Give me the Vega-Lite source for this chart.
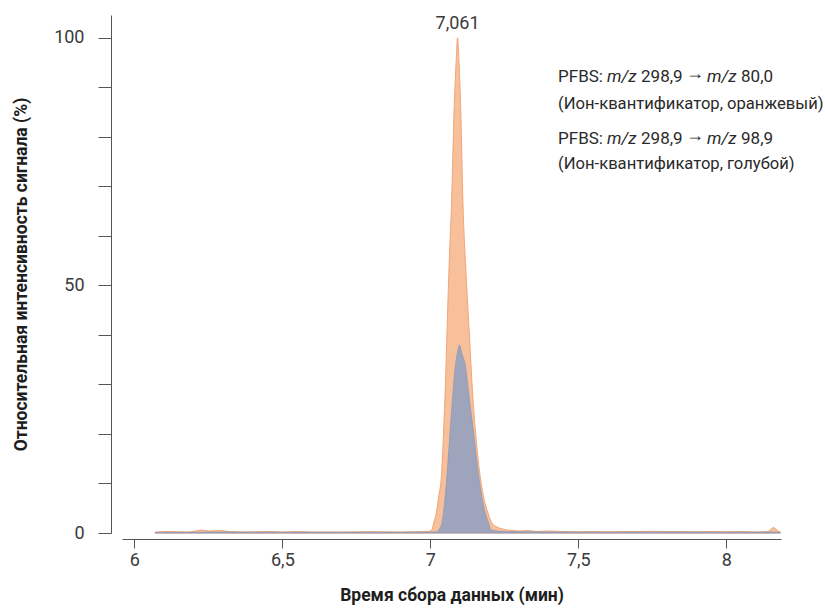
{
  "$schema": "https://vega.github.io/schema/vega-lite/v6.json",
  "width": 659,
  "height": 518,
  "autosize": {"type": "none"},
  "padding": {"left": 122, "top": 15, "right": 44, "bottom": 76},
  "background": "white",
  "config": {
    "view": {"stroke": null},
    "font": "Roboto",
    "axis": {
      "grid": false,
      "domainColor": "#555555",
      "tickColor": "#555555",
      "labelColor": "#3a3a3a",
      "titleColor": "#1e1e1e",
      "labelFontSize": 18,
      "titleFontSize": 17.5,
      "titleFontWeight": "bold",
      "labelFont": "Roboto",
      "titleFont": "Roboto"
    }
  },
  "datasets": {
    "trace": [
      {"ion": "80,0", "t": 6.07, "i": 0.2}, {"ion": "80,0", "t": 6.12, "i": 0.3}, {"ion": "80,0", "t": 6.18, "i": 0.2},
      {"ion": "80,0", "t": 6.23, "i": 0.6}, {"ion": "80,0", "t": 6.25, "i": 0.4}, {"ion": "80,0", "t": 6.29, "i": 0.5},
      {"ion": "80,0", "t": 6.32, "i": 0.3}, {"ion": "80,0", "t": 6.38, "i": 0.2}, {"ion": "80,0", "t": 6.45, "i": 0.3},
      {"ion": "80,0", "t": 6.5, "i": 0.2}, {"ion": "80,0", "t": 6.55, "i": 0.3}, {"ion": "80,0", "t": 6.6, "i": 0.2},
      {"ion": "80,0", "t": 6.7, "i": 0.2}, {"ion": "80,0", "t": 6.8, "i": 0.25}, {"ion": "80,0", "t": 6.9, "i": 0.2},
      {"ion": "80,0", "t": 6.95, "i": 0.25}, {"ion": "80,0", "t": 6.99, "i": 0.3}, {"ion": "80,0", "t": 7.005, "i": 0.6},
      {"ion": "80,0", "t": 7.011, "i": 2}, {"ion": "80,0", "t": 7.02, "i": 4}, {"ion": "80,0", "t": 7.028, "i": 7.3},
      {"ion": "80,0", "t": 7.038, "i": 12}, {"ion": "80,0", "t": 7.045, "i": 20.8}, {"ion": "80,0", "t": 7.051, "i": 30},
      {"ion": "80,0", "t": 7.056, "i": 40}, {"ion": "80,0", "t": 7.064, "i": 55}, {"ion": "80,0", "t": 7.072, "i": 67},
      {"ion": "80,0", "t": 7.080, "i": 85}, {"ion": "80,0", "t": 7.087, "i": 95}, {"ion": "80,0", "t": 7.092, "i": 100},
      {"ion": "80,0", "t": 7.097, "i": 95}, {"ion": "80,0", "t": 7.103, "i": 85}, {"ion": "80,0", "t": 7.110, "i": 67},
      {"ion": "80,0", "t": 7.121, "i": 52}, {"ion": "80,0", "t": 7.132, "i": 40}, {"ion": "80,0", "t": 7.142, "i": 29},
      {"ion": "80,0", "t": 7.152, "i": 20.8}, {"ion": "80,0", "t": 7.165, "i": 13}, {"ion": "80,0", "t": 7.18, "i": 7.3},
      {"ion": "80,0", "t": 7.195, "i": 4}, {"ion": "80,0", "t": 7.208, "i": 2}, {"ion": "80,0", "t": 7.225, "i": 1.2},
      {"ion": "80,0", "t": 7.245, "i": 0.8}, {"ion": "80,0", "t": 7.259, "i": 0.6}, {"ion": "80,0", "t": 7.28, "i": 0.5},
      {"ion": "80,0", "t": 7.3, "i": 0.4}, {"ion": "80,0", "t": 7.33, "i": 0.5}, {"ion": "80,0", "t": 7.36, "i": 0.3},
      {"ion": "80,0", "t": 7.4, "i": 0.4}, {"ion": "80,0", "t": 7.45, "i": 0.3}, {"ion": "80,0", "t": 7.5, "i": 0.25},
      {"ion": "80,0", "t": 7.55, "i": 0.3}, {"ion": "80,0", "t": 7.6, "i": 0.25}, {"ion": "80,0", "t": 7.65, "i": 0.3},
      {"ion": "80,0", "t": 7.7, "i": 0.3}, {"ion": "80,0", "t": 7.75, "i": 0.35}, {"ion": "80,0", "t": 7.8, "i": 0.3},
      {"ion": "80,0", "t": 7.85, "i": 0.3}, {"ion": "80,0", "t": 7.9, "i": 0.25}, {"ion": "80,0", "t": 7.95, "i": 0.3},
      {"ion": "80,0", "t": 8.0, "i": 0.25}, {"ion": "80,0", "t": 8.05, "i": 0.3}, {"ion": "80,0", "t": 8.1, "i": 0.2},
      {"ion": "80,0", "t": 8.14, "i": 0.3}, {"ion": "80,0", "t": 8.16, "i": 1.1}, {"ion": "80,0", "t": 8.175, "i": 0.4},
      {"ion": "80,0", "t": 8.183, "i": 0.2},
      {"ion": "98,9", "t": 6.07, "i": 0.1}, {"ion": "98,9", "t": 6.2, "i": 0.15}, {"ion": "98,9", "t": 6.3, "i": 0.2},
      {"ion": "98,9", "t": 6.5, "i": 0.15}, {"ion": "98,9", "t": 6.7, "i": 0.15}, {"ion": "98,9", "t": 6.9, "i": 0.15},
      {"ion": "98,9", "t": 7.02, "i": 0.2}, {"ion": "98,9", "t": 7.028, "i": 0.6}, {"ion": "98,9", "t": 7.039, "i": 2},
      {"ion": "98,9", "t": 7.05, "i": 7.3}, {"ion": "98,9", "t": 7.058, "i": 13}, {"ion": "98,9", "t": 7.067, "i": 20.8},
      {"ion": "98,9", "t": 7.076, "i": 28}, {"ion": "98,9", "t": 7.085, "i": 34}, {"ion": "98,9", "t": 7.093, "i": 36.8},
      {"ion": "98,9", "t": 7.0985, "i": 38}, {"ion": "98,9", "t": 7.104, "i": 36.8}, {"ion": "98,9", "t": 7.111, "i": 35.5},
      {"ion": "98,9", "t": 7.118, "i": 34}, {"ion": "98,9", "t": 7.13, "i": 28}, {"ion": "98,9", "t": 7.145, "i": 20.8},
      {"ion": "98,9", "t": 7.16, "i": 13}, {"ion": "98,9", "t": 7.174, "i": 7.3}, {"ion": "98,9", "t": 7.186, "i": 4},
      {"ion": "98,9", "t": 7.197, "i": 2}, {"ion": "98,9", "t": 7.205, "i": 0.6}, {"ion": "98,9", "t": 7.25, "i": 0.3},
      {"ion": "98,9", "t": 7.4, "i": 0.2}, {"ion": "98,9", "t": 7.6, "i": 0.15}, {"ion": "98,9", "t": 7.8, "i": 0.2},
      {"ion": "98,9", "t": 8.0, "i": 0.15}, {"ion": "98,9", "t": 8.15, "i": 0.2}, {"ion": "98,9", "t": 8.183, "i": 0.1}
    ],
    "apex": [{"t": 7.092, "i": 100, "label": "7,061"}],
    "notes": [
      {"t": 7.4315, "i": 91.0, "a": "PFBS:", "b": "m/z", "c": "298,9", "arrow": "→", "d": "m/z", "e": "80,0"},
      {"t": 7.4315, "i": 78.5, "a": "PFBS:", "b": "m/z", "c": "298,9", "arrow": "→", "d": "m/z", "e": "98,9"}
    ],
    "notes2": [
      {"t": 7.4315, "i": 85.7, "text": "(Ион-квантификатор, оранжевый)"},
      {"t": 7.4315, "i": 73.5, "text": "(Ион-квантификатор, голубой)"}
    ]
  },
  "encoding": {
    "x": {
      "field": "t", "type": "quantitative",
      "scale": {"domain": [5.958, 8.185], "nice": false, "zero": false},
      "axis": {
        "title": "Время сбора данных (мин)",
        "values": [6, 6.5, 7, 7.5, 8],
        "labelExpr": "replace(format(datum.value, '~g'), '.', ',')",
        "offset": 6, "tickSize": 9, "labelPadding": 3, "titlePadding": 17,
        "labelFlush": false, "labelOverlap": false
      }
    },
    "y": {
      "field": "i", "type": "quantitative",
      "scale": {"domain": [0, 104.6], "nice": false},
      "axis": {
        "title": "Относительная интенсивность сигнала (%)",
        "values": [0, 10, 20, 30, 40, 50, 60, 70, 80, 90, 100],
        "labelExpr": "datum.value % 50 === 0 ? format(datum.value, 'd') : ''",
        "offset": 11, "tickSize": 13, "labelPadding": 14, "titlePadding": 23,
        "labelFlush": false, "labelOverlap": false
      }
    }
  },
  "layer": [
    {
      "data": {"name": "trace"},
      "transform": [{"filter": "datum.ion === '80,0'"}],
      "mark": {"type": "area", "fill": "#f7c09a", "stroke": "#f0a676", "strokeWidth": 1, "interpolate": "monotone"}
    },
    {
      "data": {"name": "trace"},
      "transform": [{"filter": "datum.ion === '98,9'"}],
      "mark": {"type": "area", "fill": "#98a2bd", "fillOpacity": 0.95, "stroke": "#909bb7", "strokeWidth": 0.8, "interpolate": "monotone"}
    },
    {
      "data": {"name": "apex"},
      "mark": {"type": "text", "align": "center", "baseline": "alphabetic", "dy": -9, "fontSize": 18, "color": "#3a3a3a"},
      "encoding": {"text": {"field": "label"}}
    },
    {
      "data": {"name": "notes"},
      "mark": {"type": "text", "align": "left", "baseline": "alphabetic", "fontSize": 17, "color": "#2a2a2a"},
      "encoding": {"text": {"field": "a"}}
    },
    {
      "data": {"name": "notes"},
      "mark": {"type": "text", "align": "left", "baseline": "alphabetic", "fontSize": 17, "fontStyle": "italic", "dx": 49, "color": "#2a2a2a"},
      "encoding": {"text": {"field": "b"}}
    },
    {
      "data": {"name": "notes"},
      "mark": {"type": "text", "align": "left", "baseline": "alphabetic", "fontSize": 17, "dx": 83, "color": "#2a2a2a"},
      "encoding": {"text": {"field": "c"}}
    },
    {
      "data": {"name": "notes"},
      "mark": {"type": "text", "align": "left", "baseline": "alphabetic", "fontSize": 18, "dx": 128, "dy": -3, "color": "#2a2a2a"},
      "encoding": {"text": {"field": "arrow"}}
    },
    {
      "data": {"name": "notes"},
      "mark": {"type": "text", "align": "left", "baseline": "alphabetic", "fontSize": 17, "fontStyle": "italic", "dx": 149, "color": "#2a2a2a"},
      "encoding": {"text": {"field": "d"}}
    },
    {
      "data": {"name": "notes"},
      "mark": {"type": "text", "align": "left", "baseline": "alphabetic", "fontSize": 17, "dx": 183, "color": "#2a2a2a"},
      "encoding": {"text": {"field": "e"}}
    },
    {
      "data": {"name": "notes2"},
      "mark": {"type": "text", "align": "left", "baseline": "alphabetic", "fontSize": 16.6, "color": "#2a2a2a"},
      "encoding": {"text": {"field": "text"}}
    }
  ]
}
